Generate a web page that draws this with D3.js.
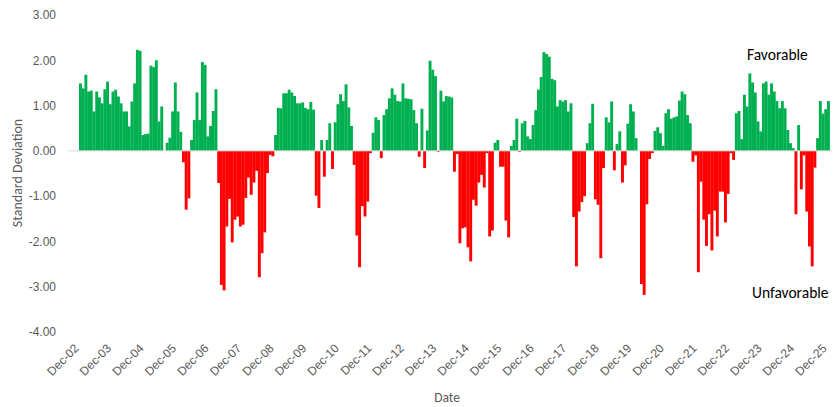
<!DOCTYPE html>
<html>
<head>
<meta charset="utf-8">
<script src="https://cdn.jsdelivr.net/npm/d3@7"></script>
<style>
  body { margin: 0; background: #fff; }
  svg { font-family: Calibri, Carlito, Lato, sans-serif; }
  .axis text { fill: #595959; font-size: 12px; }
</style>
</head>
<body>
<svg id="chart" width="834" height="407"></svg>
<script>
// monthly observations, Dec-02 .. Dec-25
const months = d3.timeMonth.range(new Date(2002, 11, 1), new Date(2026, 0, 1));

const stdDev = [
  1.49, 1.38, 1.68, 1.31, 1.33, 0.87, 1.31, 1.18, 1.05, 1.36, 1.53, 1.03,
  1.31, 1.35, 1.20, 1.05, 0.87, 0.87, 0.54, 1.09, 1.49, 2.23, 2.21, 0.35,
  0.37, 0.38, 1.88, 1.85, 2.00, 0.65, 0.98, 0.00, 0.18, 0.29, 0.87, 1.51,
  0.87, 0.42, -0.25, -1.30, -1.05, 0.24, 0.68, 1.29, 0.68, 1.96, 1.90, 0.32,
  0.55, 0.88, 1.36, -0.71, -2.96, -3.08, -1.67, -1.06, -2.02, -1.52, -1.45, -1.67,
  -1.63, -1.04, -0.59, -0.97, -0.70, -0.44, -2.79, -2.26, -1.80, -0.49, -0.09, -0.12,
  0.35, 0.95, 0.94, 1.27, 1.27, 1.35, 1.29, 1.21, 1.05, 1.05, 1.07, 0.95,
  0.92, 1.08, 0.91, -0.99, -1.26, 0.24, -0.57, 0.24, 0.61, -0.40, 0.63, 1.03,
  1.25, 1.10, 1.47, 0.96, 0.55, -0.31, -1.87, -2.57, -1.22, -1.45, -1.12, -0.05,
  0.40, 0.74, 0.68, -0.16, 0.79, 0.92, 1.16, 1.38, 1.24, 1.10, 1.09, 1.49,
  1.16, 1.15, 1.14, 0.90, 0.61, -0.13, 0.93, -0.38, 0.45, 1.99, 1.79, 1.65,
  -0.02, 1.33, 1.09, 1.21, 1.20, 1.18, -0.46, -0.07, -2.04, -1.71, -1.69, -2.13,
  -2.44, -1.08, -1.21, -0.70, -0.53, -0.81, -0.05, -1.89, -1.76, 0.18, 0.24, -0.35,
  -0.35, -1.54, -1.91, 0.11, 0.24, 0.71, -0.02, 0.61, 0.66, 0.32, 0.26, 0.57,
  0.90, 1.35, 1.63, 2.18, 2.14, 2.08, 1.59, 1.56, 0.98, 1.12, 1.09, 1.12,
  0.87, 1.05, -1.46, -2.55, -1.34, -1.13, -1.00, 0.17, 0.61, 1.04, -1.07, -1.19,
  -2.37, -0.38, 0.74, 0.63, 1.09, -0.43, 0.15, 0.43, -0.70, -0.32, 0.60, 1.03,
  0.87, 0.28, 0.00, -2.94, -3.18, -1.18, -0.18, -0.05, 0.44, 0.52, 0.39, 0.11,
  0.83, 0.92, 0.71, 0.74, 0.76, 1.11, 1.31, 1.25, 0.79, 0.61, -0.24, -0.10,
  -2.68, -0.68, -1.52, -2.10, -1.40, -2.20, -1.32, -1.89, -0.90, -0.90, -1.58, -0.95,
  -0.05, -0.20, 0.83, 0.88, 0.26, 1.24, 0.98, 1.71, 1.51, 1.29, 0.65, 0.43,
  1.49, 1.53, 1.24, 1.49, 1.31, 1.10, 0.94, 1.10, 0.94, 0.46, 0.17, 0.06,
  -1.40, 0.57, -0.85, -0.10, -1.34, -2.11, -2.55, -0.37, 0.28, 1.10, 0.82, 0.92,
  1.10
];

const tickLabels = ["Dec-02", "Dec-03", "Dec-04", "Dec-05", "Dec-06", "Dec-07", "Dec-08",
  "Dec-09", "Dec-10", "Dec-11", "Dec-12", "Dec-13", "Dec-14", "Dec-15", "Dec-16",
  "Dec-17", "Dec-18", "Dec-19", "Dec-20", "Dec-21", "Dec-22", "Dec-23", "Dec-24", "Dec-25"];

const yTicks = [3, 2, 1, 0, -1, -2, -3, -4];

const data = months.map((m, i) => ({ month: m, v: stdDev[i] }));

const svg = d3.select("#chart");

let x = d3.scaleBand()
  .domain(months)
  .range([79, 829.7])
  .padding(0);

let y = d3.scaleLinear()
  .domain([-4, 3])
  .range([332, 15]);

// bars
svg.append("g")
  .selectAll("rect")
  .data(data)
  .enter()
  .append("rect")
  .attr("x", d => x(d.month))
  .attr("width", x.bandwidth() + 0.2)
  .attr("y", d => y(Math.max(0, d.v)))
  .attr("height", d => Math.abs(y(d.v) - y(0)))
  .attr("fill", d => d.v >= 0 ? "#00b050" : "#ff0000");

// zero line
svg.append("line")
  .attr("x1", 68).attr("x2", 832)
  .attr("y1", y(0)).attr("y2", y(0))
  .attr("stroke", "#d9d9d9")
  .attr("stroke-width", 1);

// y axis
let yAxis = svg.append("g")
  .attr("class", "axis")
  .attr("transform", "translate(56,0)")
  .call(d3.axisLeft(y).tickValues(yTicks).tickSize(0).tickPadding(0)
    .tickFormat(d => d.toFixed(2)));
yAxis.select(".domain").remove();

// x axis, one label per December
let tickMonths = months.filter((m, i) => i % 12 === 0);
let xAxis = svg.append("g")
  .attr("class", "axis")
  .attr("transform", "translate(0,340)")
  .call(d3.axisBottom(x).tickValues(tickMonths).tickSize(0)
    .tickFormat((d, i) => tickLabels[i]));
xAxis.select(".domain").remove();
xAxis.selectAll("text")
  .attr("text-anchor", "end")
  .attr("dy", "0.35em")
  .attr("transform", "translate(-6,4) rotate(-45)");

// axis titles
svg.append("text")
  .attr("transform", "translate(22,173) rotate(-90)")
  .attr("text-anchor", "middle")
  .attr("fill", "#595959")
  .style("font-size", "14px")
  .text("Standard Deviation");

svg.append("text")
  .attr("x", 447).attr("y", 402)
  .attr("text-anchor", "middle")
  .attr("fill", "#595959")
  .style("font-size", "13.5px")
  .text("Date");

// annotations
svg.append("text")
  .attr("x", 747).attr("y", 60)
  .attr("fill", "#000")
  .style("font-size", "15.5px")
  .text("Favorable");

svg.append("text")
  .attr("x", 752).attr("y", 298)
  .attr("fill", "#000")
  .style("font-size", "15.5px")
  .text("Unfavorable");
</script>
</body>
</html>
